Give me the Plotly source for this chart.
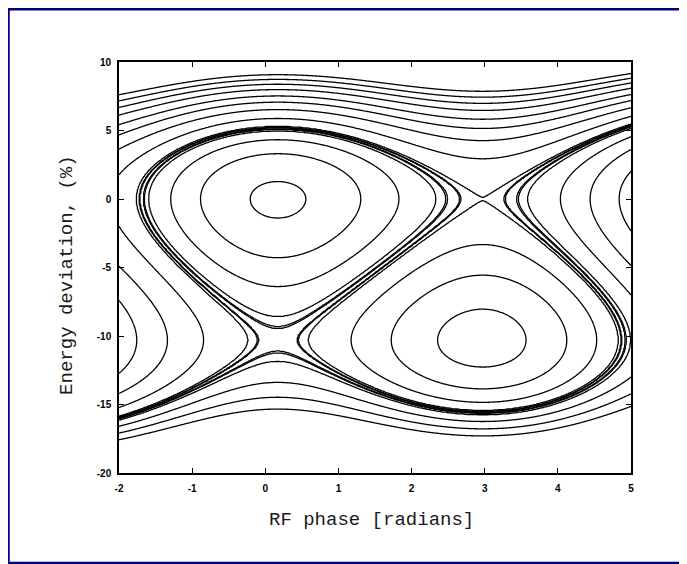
import numpy as np
import plotly.graph_objects as go

# ---------------- values ----------------
X_RANGE = [-2, 5]
Y_RANGE = [-20, 10]
X_TICKS = [-2, -1, 0, 1, 2, 3, 4, 5]
Y_TICKS = [-20, -15, -10, -5, 0, 5, 10]
X_TITLE = "RF phase [radians]"
Y_TITLE = "Energy deviation, (%)"

# fixed points / bucket geometry
PHI_S = 0.17          # phase of the upper stable point (radians)
DELTA_LOW = -10.3     # energy deviation of the lower row of fixed points (%)
SEP_TOP = 5.28        # top of upper separatrix above the upper stable point (%)
LOW_BUCKET_PHI = [0.17, 4.95]   # phase extent of the lower bucket (radians)

# Trajectories outside the lower bucket: points each one passes through
ANCHOR_CURVE = [0, 0,
                1, 1,
                2, 2,
                3, 3,
                4, 4,
                5, 5,
                6, 6,
                7, 7,
                8, 8, 8,
                9, 9, 9,
                10, 10, 10,
                11, 11, 11,
                12, 12, 12,
                13, 13,
                14, 14,
                15, 15,
                16, 16]
ANCHOR_PHI = [0.17, 2.97,
              0.17, 2.97,
              0.17, 2.97,
              0.17, 2.97,
              0.17, 2.97,
              0.17, 2.97,
              0.17, 2.97,
              0.17, 2.97,
              0.56, -0.18, 4.80,
              0.47, -0.08, 4.87,
              2.77, 3.16, 4.91,
              2.56, 3.36, 0.17,
              2.49, 3.41, 0.17,
              2.33, 3.58,
              1.81, 4.02,
              1.29, 4.43,
              0.56, 4.84]
ANCHOR_DELTA = [9.10, 7.83,
                8.74, 7.42,
                8.37, 6.99,
                7.96, 6.50,
                7.52, 5.82,
                7.06, 5.16,
                6.50, 4.31,
                5.89, 2.90,
                -10.4, -10.4, -10.4,
                -10.4, -10.4, -10.4,
                0.0, 0.0, -10.4,
                0.0, 0.0, -11.75,
                0.0, 0.0, -8.95,
                0.0, 0.0,
                0.0, 0.0,
                0.0, 0.0,
                0.0, 0.0]

# Trajectories inside the lower bucket
LOW_CURVE = [0, 0, 0,
             1, 1, 1, 1,
             2, 2, 2, 2]
LOW_PHI = [2.97, 2.36, 2.97,
           2.97, 1.72, 4.11, 2.97,
           2.97, 1.19, 4.52, 2.97]
LOW_DELTA = [-8.22, -10.4, -12.4,
             -5.67, -10.4, -10.4, -13.94,
             -3.36, -10.4, -10.4, -14.9]

# ---------------- longitudinal phase-space invariant ----------------
D0 = -DELTA_LOW


def f_delta(d):
    return d ** 2 / 2.0 + d ** 3 / (3.0 * D0)


def u_phi(p):
    return np.cos(p) + p * np.sin(PHI_S)


K = f_delta(SEP_TOP) / (u_phi(PHI_S) - u_phi(np.pi - PHI_S))


def invariant(p, d):
    return f_delta(d) - K * u_phi(p)


def curve_levels(ids, ph, de):
    ids = np.array(ids)
    h = invariant(np.array(ph, float), np.array(de, float))
    return np.array(sorted(h[ids == c].mean() for c in np.unique(ids)))


levels_out = curve_levels(ANCHOR_CURVE, ANCHOR_PHI, ANCHOR_DELTA)
levels_low = curve_levels(LOW_CURVE, LOW_PHI, LOW_DELTA)

phi = np.linspace(X_RANGE[0], X_RANGE[1], 561)
delta = np.linspace(Y_RANGE[0], Y_RANGE[1], 481)
P, D = np.meshgrid(phi, delta)
H = invariant(P, D)

# interior of the lower bucket (between the separatrix bundle and the inner curves)
below = levels_out[levels_out < levels_low.min()].max()
thr = 0.5 * (below + levels_low.min())
inside_low = (P > LOW_BUCKET_PHI[0]) & (P < LOW_BUCKET_PHI[1]) & (D < 0) & (H > thr)


def to_index(h, lv):
    idx = np.arange(len(lv), dtype=float)
    z = np.interp(h, lv, idx)
    lo = h < lv[0]
    hi = h > lv[-1]
    z[lo] = (h[lo] - lv[0]) / (lv[1] - lv[0])
    z[hi] = idx[-1] + (h[hi] - lv[-1]) / (lv[-1] - lv[-2])
    return np.round(z, 4)


# continuous fields: each trace is flat (at the boundary value) where the other one draws
Z_out = to_index(np.where(inside_low, thr, H), levels_out)
Z_low = to_index(np.where(inside_low, H, thr), levels_low)


def contour(z, n):
    return go.Contour(
        x=phi, y=delta, z=z,
        contours=dict(start=0, end=n - 1, size=1, coloring="lines", showlabels=False),
        colorscale=[[0, "black"], [1, "black"]],
        line=dict(width=1.3, smoothing=1),
        showscale=False, hoverinfo="skip",
    )


fig = go.Figure([contour(Z_out, len(levels_out)), contour(Z_low, len(levels_low))])

axis_common = dict(
    showgrid=False, zeroline=False, showline=True, linecolor="black", linewidth=1.6,
    mirror="ticks", ticks="inside", ticklen=5, tickwidth=1.3, tickcolor="black",
    tickfont=dict(family="Liberation Sans Narrow, Liberation Sans, Arial", size=10,
                  color="black", weight="bold"),
)
fig.update_xaxes(range=X_RANGE, tickvals=X_TICKS, ticktext=[str(v) for v in X_TICKS],
                 ticklabelstandoff=5, **axis_common)
fig.update_yaxes(range=Y_RANGE, tickvals=Y_TICKS, ticktext=[str(v) for v in Y_TICKS],
                 ticklabelstandoff=4, **axis_common)

title_font = dict(family="Liberation Mono, Courier New, monospace", size=19, color="#1a1a1a")
fig.add_annotation(text=X_TITLE, xref="paper", yref="paper", x=0.494, y=-0.114,
                   xanchor="center", yanchor="middle", showarrow=False, font=title_font)
fig.add_annotation(text=Y_TITLE, xref="paper", yref="paper", x=-0.1016, y=0.482,
                   xanchor="center", yanchor="middle", textangle=-90, showarrow=False,
                   font=title_font)

# navy frame around the figure
fig.add_shape(type="rect", xref="paper", yref="paper",
              x0=-0.2158, x1=1.2, y0=-0.219, y1=1.1285,
              line=dict(color="#000080", width=2.5), layer="below")

# the page adds an 8px body margin, so the figure is 8px smaller and margins shifted
fig.update_layout(
    width=679, height=556,
    margin=dict(l=111, r=56, t=54, b=91),
    paper_bgcolor="white", plot_bgcolor="white",
    showlegend=False,
)

fig.write_html("out.html")
